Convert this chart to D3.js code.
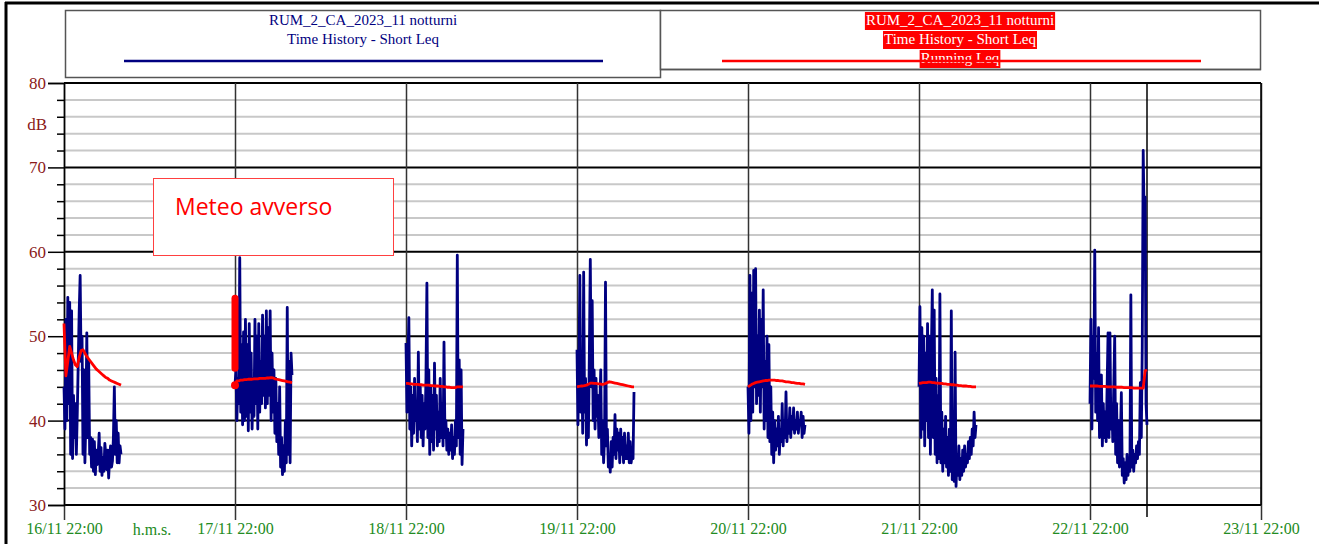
<!DOCTYPE html>
<html>
<head>
<meta charset="utf-8">
<script src="https://cdn.jsdelivr.net/npm/d3@7"></script>
<style>
  body { margin: 0; background: #fff; }
  svg { display: block; }
  .serif { font-family: "Liberation Serif", "Times New Roman", serif; }
</style>
</head>
<body>
<div class="chart"></div>
<script>
// Time history of short Leq, one array per night (22:00 -> 06:00, one value every 8 min)
var nightStarts = ["2023-11-16 22:00", "2023-11-17 22:00", "2023-11-18 22:00", "2023-11-19 22:00",
                   "2023-11-20 22:00", "2023-11-21 22:00", "2023-11-22 22:00"];
var dayTicks = ["2023-11-16 22:00", "2023-11-17 22:00", "2023-11-18 22:00", "2023-11-19 22:00",
                "2023-11-20 22:00", "2023-11-21 22:00", "2023-11-22 22:00", "2023-11-23 22:00"];
var shortStepMin = 8;
var runningStepMin = 16;

var night1 = [44, 39, 52, 40, 54.6, 42, 54, 36, 53, 35.5, 43, 38, 42, 36, 41, 47, 53, 57.2, 47, 50,
              36, 46, 35, 40, 50.4, 38, 47, 36, 38, 34.5, 37.8, 34, 37.5, 33.6, 36.5, 34.8, 36, 38.5, 34, 36.8,
              33.5, 35.6, 34, 37.3, 36, 34.2, 36.5, 33.2, 35.5, 37, 34.5, 35.2, 38, 44, 36, 40, 35, 38.5, 35, 37, 36];
var night2 = [44.2, 46, 40, 45, 42, 59.3, 41, 49, 39.5, 50.5, 40, 52, 40.5, 49, 38.8, 51.5, 41, 48, 39, 45,
              40.5, 52, 42, 50, 39, 51.5, 41, 47, 42, 52.5, 43, 50, 41.5, 53, 42, 51, 43, 53, 40, 48,
              41, 46, 38.5, 45, 37.5, 42, 36, 44, 34.5, 38, 33.6, 37, 34, 40, 35, 53.4, 36, 47, 35, 48, 45.4];
var night3 = [49.2, 41, 47, 52.2, 39, 44, 37, 43, 38.5, 45, 40, 42, 37.5, 48.1, 39, 44, 38, 43, 37, 42,
              39, 45, 56.3, 38, 46, 36, 44, 37.5, 43, 36.5, 46.8, 39, 43, 37, 41, 37.5, 45, 38, 42, 37,
              49.3, 38, 40, 36.5, 39, 36, 38.5, 36.5, 39.5, 35.5, 38, 36, 40, 37, 59.6, 38, 47.2, 36, 46, 34.8, 39];
var night4 = [48.4, 39.5, 46, 57.2, 41, 47, 38.5, 57.6, 41, 45, 37.1, 44, 38, 48, 59.1, 44, 54.2, 40, 46, 39,
              45, 40.5, 43, 38, 42, 46, 36, 40, 35, 38, 56.4, 37, 39, 34.5, 36, 33.9, 37.5, 34.5, 38, 36,
              40.7, 35.5, 39, 36.5, 38.5, 35, 39, 36, 38, 35, 38.5, 35.5, 37, 35.5, 38.5, 35, 37.5, 35, 36, 35.5, 43.4];
var night5 = [44, 38.5, 57.2, 40, 55.1, 41, 57.8, 44, 58, 42, 50, 43, 53.1, 41, 52, 44, 55.5, 39, 47, 40,
              50, 38, 49, 37.5, 44, 36, 41, 35, 40, 36.5, 39, 37, 40.5, 36, 39, 37.5, 42, 37, 40, 38,
              43.4, 37.5, 40, 38.5, 41.5, 38, 40.5, 39, 41.5, 38.5, 40, 39, 41, 38.5, 40, 39.5, 41, 38, 40.5, 38.5, 39.5];
var night6 = [44, 53.5, 38, 51, 39, 50, 37, 48, 40, 51.5, 38, 50, 36, 48, 55.5, 38, 53.1, 36, 45, 35,
              43, 35.5, 55, 35, 41, 34, 39, 35, 40.5, 34.5, 38, 33.5, 39, 34, 53, 33, 37, 32.8, 48.1, 32.2,
              36, 33.5, 37, 33, 35.5, 33.5, 36.5, 34, 37, 34.5, 36, 35, 37.5, 35.5, 38, 36, 39, 37, 41, 38, 39.5];
var night7 = [42, 52, 39, 50, 45, 60.2, 41, 48, 40, 51, 38, 43, 45.4, 37, 42, 38, 41, 37.5, 44, 50.4,
              38, 50.4, 39, 42, 37.5, 44, 50, 36, 42, 35, 40, 34.5, 38, 43.3, 33.5, 35.5, 32.6, 35, 33, 36,
              33.5, 35.5, 34, 54.9, 34.5, 36.5, 34, 36, 35, 37, 35.5, 37.5, 36, 44.5, 38, 48.7, 72, 64, 66.5, 42, 39.5];

// Running Leq, one value every 16 min
var run1 = [51.5, 45.3, 47, 48.8, 48, 47.2, 46.6, 46.4, 47.5, 48.3, 48.4, 48.0, 47.6, 47.3, 47.0, 46.7,
            46.4, 46.1, 45.9, 45.7, 45.5, 45.3, 45.1, 45.0, 44.8, 44.7, 44.6, 44.5, 44.4, 44.3, 44.2];
var run2 = [44.2, 44.7, 44.7, 44.8, 44.8, 44.85, 44.85, 44.9, 44.9, 44.9, 44.95, 44.95, 44.95, 45.0, 45.0, 45.0,
            45.0, 45.05, 45.05, 45.1, 45.05, 44.95, 44.9, 44.85, 44.8, 44.75, 44.7, 44.65, 44.6, 44.55, 44.5];
var run3 = [44.4, 44.4, 44.35, 44.35, 44.3, 44.3, 44.3, 44.25, 44.25, 44.2, 44.2, 44.2, 44.2, 44.15, 44.15, 44.1,
            44.1, 44.1, 44.05, 44.05, 44.0, 44.0, 43.95, 43.95, 43.9, 43.9, 43.9, 44.0, 44.0, 44.0, 44.0];
var run4 = [44.0, 44.05, 44.1, 44.1, 44.15, 44.2, 44.3, 44.45, 44.45, 44.4, 44.4, 44.35, 44.35, 44.3, 44.3, 44.4,
            44.5, 44.6, 44.55, 44.5, 44.45, 44.4, 44.35, 44.3, 44.25, 44.2, 44.15, 44.1, 44.05, 44.0, 44.0];
var run5 = [44.0, 44.15, 44.3, 44.4, 44.5, 44.55, 44.6, 44.65, 44.7, 44.75, 44.75, 44.8, 44.8, 44.8, 44.8, 44.75,
            44.75, 44.7, 44.7, 44.65, 44.6, 44.6, 44.55, 44.5, 44.5, 44.45, 44.4, 44.4, 44.35, 44.35, 44.3];
var run6 = [44.4, 44.45, 44.5, 44.5, 44.5, 44.55, 44.55, 44.5, 44.5, 44.45, 44.45, 44.4, 44.4, 44.35, 44.35, 44.3,
            44.3, 44.25, 44.25, 44.2, 44.2, 44.15, 44.15, 44.1, 44.1, 44.1, 44.05, 44.05, 44.0, 44.0, 44.0];
var run7 = [44.1, 44.1, 44.1, 44.1, 44.1, 44.05, 44.05, 44.05, 44.05, 44.0, 44.0, 44.0, 44.0, 44.0, 43.95, 43.95,
            43.95, 43.95, 43.9, 43.9, 43.9, 43.9, 43.9, 43.85, 43.85, 43.85, 43.85, 43.85, 43.85, 45.9, 46.0];

// running Leq marker at the start of night 2 (bar from/to, and the dot)
var markerBar = [54.5, 46.2];
var markerDot = 44.2;
var cursorTime = "2023-11-23 06:00";

var legendLines = ["RUM_2_CA_2023_11 notturni", "Time History - Short Leq"];
var runningLabel = "Running Leq";
var noteText = "Meteo avverso";
var yMajor = [30, 40, 50, 60, 70, 80];
var yMinor = [32, 34, 36, 38, 42, 44, 46, 48, 52, 54, 56, 58, 62, 64, 66, 68, 72, 74, 76, 78];

var shortNights = [night1, night2, night3, night4, night5, night6, night7];
var runNights = [run1, run2, run3, run4, run5, run6, run7];

var svgWidth = 1319, svgHeight = 544;
var plot = { left: 64, right: 1261, top: 83, bottom: 505 };

var parseTime = d3.timeParse("%Y-%m-%d %H:%M");

var svg = d3.select(".chart").append("svg")
    .attr("width", svgWidth).attr("height", svgHeight);

svg.append("rect").attr("width", svgWidth).attr("height", svgHeight).attr("fill", "#fff");

var x = d3.scaleTime()
    .domain([parseTime(dayTicks[0]), parseTime(dayTicks[dayTicks.length - 1])])
    .range([plot.left, plot.right]);
var y = d3.scaleLinear().domain([30, 80]).range([plot.bottom, plot.top]);

// page frame
svg.append("line").attr("x1", 5).attr("x2", svgWidth).attr("y1", 3).attr("y2", 3)
    .attr("stroke", "#000").attr("stroke-width", 3);
svg.append("line").attr("x1", 6).attr("x2", 6).attr("y1", 2).attr("y2", svgHeight)
    .attr("stroke", "#000").attr("stroke-width", 3);

// legend boxes
svg.append("rect").attr("x", 65.5).attr("y", 10.5).attr("width", 595).attr("height", 67)
    .attr("fill", "#fff").attr("stroke", "#555").attr("stroke-width", 1.5);
svg.append("rect").attr("x", 660.5).attr("y", 10.5).attr("width", 600).attr("height", 59)
    .attr("fill", "#fff").attr("stroke", "#555").attr("stroke-width", 1.5);

var leftLegend = svg.append("g").attr("class", "serif");
legendLines.forEach(function(t, i) {
    leftLegend.append("text").attr("x", 363).attr("y", 25 + i * 19)
        .attr("text-anchor", "middle").attr("font-size", "15px").attr("fill", "#000080")
        .text(t);
});
leftLegend.append("line").attr("x1", 124).attr("x2", 603).attr("y1", 61).attr("y2", 61)
    .attr("stroke", "#000080").attr("stroke-width", 2.5);

var rightLegend = svg.append("g").attr("class", "serif");
legendLines.concat([runningLabel]).forEach(function(t, i) {
    var txt = rightLegend.append("text").attr("x", 960).attr("y", 25 + i * 19)
        .attr("text-anchor", "middle").attr("font-size", "15px").attr("fill", "#fff")
        .text(t);
    var w = txt.node().getComputedTextLength();
    rightLegend.insert("rect", "text").attr("x", 960 - w / 2 - 1).attr("y", 12 + i * 19)
        .attr("width", w + 2).attr("height", 18).attr("fill", "#ff0000");
});
rightLegend.append("line").attr("x1", 722).attr("x2", 1201).attr("y1", 61).attr("y2", 61)
    .attr("stroke", "#ff0000").attr("stroke-width", 2.5);
svg.append("line").attr("x1", 660).attr("x2", 1261).attr("y1", 69.5).attr("y2", 69.5)
    .attr("stroke", "#555").attr("stroke-width", 1.5);

// grid
var grid = svg.append("g");
grid.selectAll(".minor").data(yMinor).enter().append("line")
    .attr("x1", plot.left).attr("x2", plot.right)
    .attr("y1", d => y(d)).attr("y2", d => y(d))
    .attr("stroke", "#c8c8c8").attr("stroke-width", 2);
grid.selectAll(".major").data(yMajor).enter().append("line")
    .attr("x1", plot.left).attr("x2", plot.right)
    .attr("y1", d => y(d)).attr("y2", d => y(d))
    .attr("stroke", "#000").attr("stroke-width", 2);

// x axis with day ticks (vertical grid lines)
var xAxis = d3.axisBottom(x)
    .tickValues(dayTicks.map(parseTime))
    .tickSize(15 + plot.bottom - plot.top)
    .tickFormat(d3.timeFormat("%d/%m %H:%M"));
var xg = svg.append("g").attr("class", "serif")
    .attr("transform", `translate(0,${plot.top})`)
    .call(xAxis);
xg.select(".domain").remove();
xg.selectAll(".tick line").attr("stroke", "#333").attr("stroke-width", 1.5);
xg.selectAll(".tick text").attr("fill", "#228B22").attr("font-size", "16px")
    .attr("font-family", "Liberation Serif, serif").attr("y", plot.bottom - plot.top + 18);

svg.append("text").attr("class", "serif").attr("x", 152).attr("y", 535)
    .attr("text-anchor", "middle").attr("font-size", "16px").attr("fill", "#228B22")
    .text("h.m.s.");

// y axis
var yMinorAxis = d3.axisLeft(y).tickValues(yMinor).tickSize(7).tickFormat("");
var ymg = svg.append("g").attr("transform", `translate(${plot.left},0)`).call(yMinorAxis);
ymg.select(".domain").remove();
ymg.selectAll(".tick line").attr("stroke", "#000").attr("stroke-width", 1.5);

var yAxis = d3.axisLeft(y).tickValues(yMajor).tickSize(16).tickPadding(2).tickFormat(d3.format("d"));
var yg = svg.append("g").attr("transform", `translate(${plot.left},0)`).call(yAxis);
yg.select(".domain").attr("stroke", "#000").attr("stroke-width", 1.5);
yg.selectAll(".tick line").attr("stroke", "#000").attr("stroke-width", 1.5);
yg.selectAll(".tick text").attr("fill", "#8B1A1A").attr("font-size", "17px")
    .attr("font-family", "Liberation Serif, serif");

svg.append("text").attr("class", "serif").attr("x", 47).attr("y", y(75) + 5)
    .attr("text-anchor", "end").attr("font-size", "17px").attr("fill", "#8B1A1A")
    .text("dB");

svg.append("line").attr("x1", plot.right).attr("x2", plot.right)
    .attr("y1", plot.top).attr("y2", plot.bottom)
    .attr("stroke", "#000").attr("stroke-width", 1.5);

// cursor at end of last night
svg.append("line")
    .attr("x1", x(parseTime(cursorTime))).attr("x2", x(parseTime(cursorTime)))
    .attr("y1", plot.top).attr("y2", plot.bottom + 12)
    .attr("stroke", "#000").attr("stroke-width", 1.5);

// annotation
svg.append("rect").attr("x", 153.5).attr("y", 178.5).attr("width", 240).attr("height", 77)
    .attr("fill", "#fff").attr("stroke", "#ff4040").attr("stroke-width", 1);
svg.append("text").attr("x", 175).attr("y", 215)
    .attr("font-family", "Open Sans, Noto Sans, sans-serif").attr("font-size", "23px")
    .attr("fill", "#ff0000").text(noteText);

// series
var line = d3.line().x(d => x(d.t)).y(d => y(d.v));

function toPoints(values, start, stepMin) {
    var t0 = parseTime(start);
    return values.map((v, i) => ({ t: d3.timeMinute.offset(t0, i * stepMin), v: v }));
}

shortNights.forEach(function(vals, n) {
    svg.append("path").datum(toPoints(vals, nightStarts[n], shortStepMin))
        .attr("d", line).attr("fill", "none")
        .attr("stroke", "#000080").attr("stroke-width", 2.8).attr("stroke-linejoin", "round");
});

runNights.forEach(function(vals, n) {
    svg.append("path").datum(toPoints(vals, nightStarts[n], runningStepMin))
        .attr("d", line).attr("fill", "none")
        .attr("stroke", "#ff0000").attr("stroke-width", 2.8).attr("stroke-linejoin", "round");
});

var t2 = parseTime(nightStarts[1]);
svg.append("line").attr("x1", x(t2)).attr("x2", x(t2))
    .attr("y1", y(markerBar[0])).attr("y2", y(markerBar[1]))
    .attr("stroke", "#ff0000").attr("stroke-width", 7).attr("stroke-linecap", "round");
svg.append("circle").attr("cx", x(t2)).attr("cy", y(markerDot)).attr("r", 4).attr("fill", "#ff0000");
</script>
</body>
</html>
